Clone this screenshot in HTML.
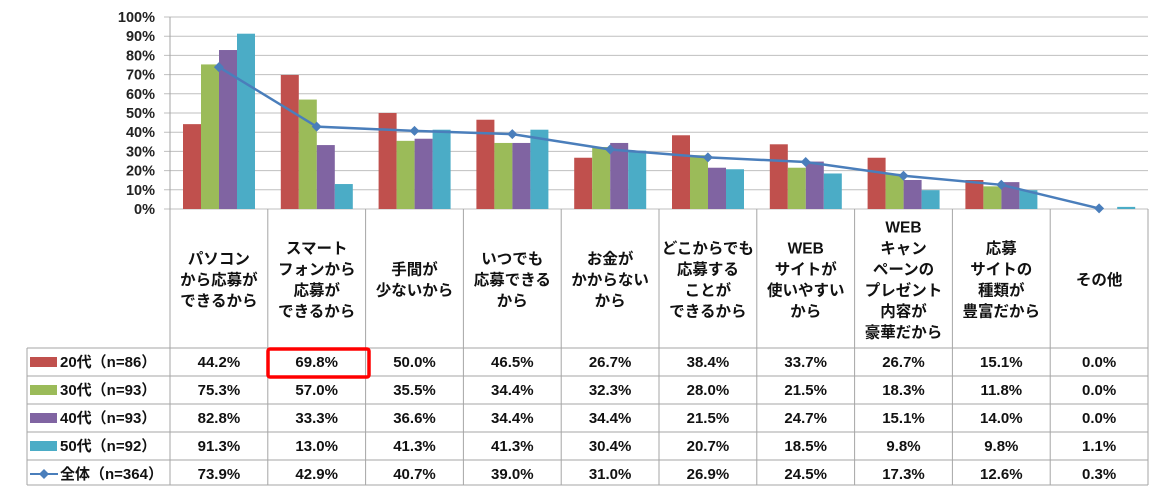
<!DOCTYPE html>
<html><head><meta charset="utf-8"><style>
body{margin:0;background:#fff;width:1159px;height:494px;overflow:hidden;font-family:"Liberation Sans","Noto Sans CJK JP",sans-serif;}
svg text{font-family:"Liberation Sans","Noto Sans CJK JP",sans-serif;font-weight:bold;}
</style></head><body>
<svg id="c" width="1159" height="494"></svg>
<script>
const categories=[["パソコン","から応募が","できるから"],["スマート","フォンから","応募が","できるから"],["手間が","少ないから"],["いつでも","応募できる","から"],["お金が","かからない","から"],["どこからでも","応募する","ことが","できるから"],["WEB","サイトが","使いやすい","から"],["WEB","キャン","ペーンの","プレゼント","内容が","豪華だから"],["応募","サイトの","種類が","豊富だから"],["その他"]];
const seriesNames=["20代（n=86）","30代（n=93）","40代（n=93）","50代（n=92）","全体（n=364）"];
const s20=[44.2,69.8,50.0,46.5,26.7,38.4,33.7,26.7,15.1,0.0];
const s30=[75.3,57.0,35.5,34.4,32.3,28.0,21.5,18.3,11.8,0.0];
const s40=[82.8,33.3,36.6,34.4,34.4,21.5,24.7,15.1,14.0,0.0];
const s50=[91.3,13.0,41.3,41.3,30.4,20.7,18.5,9.8,9.8,1.1];
const total=[73.9,42.9,40.7,39.0,31.0,26.9,24.5,17.3,12.6,0.3];
const yTicks=[0,10,20,30,40,50,60,70,80,90,100];
const colors=["#c0504d","#9bbb59","#8064a2","#4bacc6","#4a7ebb"];
const svg=document.getElementById('c');const NS="http://www.w3.org/2000/svg";
function mk(t,a,p){const e=document.createElementNS(NS,t);for(const k in a)e.setAttribute(k,a[k]);(p||svg).appendChild(e);return e;}
const X0=170,CW=97.8,Y0=209,Y1=17;
const y=v=>Y0-(v/100)*(Y0-Y1);
const xc=i=>X0+CW*i+CW/2;
yTicks.forEach(t=>{const l=mk('line',{x1:164,x2:1148,y1:y(t),y2:y(t),stroke:'#bfbfbf','stroke-width':1});

const tx=mk('text',{x:155,y:y(t)+5,'text-anchor':'end','font-size':14.5,fill:'#222'});tx.textContent=t+'%';
});
const rowsY=[348,376,404,432,460,485];
mk('line',{x1:X0,x2:X0,y1:Y1,y2:485,stroke:'#a6a6a6'});
for(let i=1;i<=10;i++)mk('line',{x1:X0+CW*i,x2:X0+CW*i,y1:Y0,y2:485,stroke:'#a6a6a6'});
mk('line',{x1:27,x2:27,y1:348,y2:485,stroke:'#a6a6a6'});
rowsY.forEach(r=>mk('line',{x1:27,x2:X0+CW*10,y1:r,y2:r,stroke:'#a6a6a6'}));
const all=[s20,s30,s40,s50];
all.forEach((s,si)=>s.forEach((v,i)=>{const bx=X0+CW*i+13+si*18;
const r=mk('rect',{x:bx,y:y(v),width:18,height:Y0-y(v),fill:colors[si]});
}));
const pl=mk('polyline',{points:total.map((v,i)=>xc(i)+','+y(v)).join(' '),fill:'none',stroke:colors[4],'stroke-width':2.5});

total.forEach((v,i)=>{const d=mk('polygon',{points:`${xc(i)},${y(v)-5} ${xc(i)+5},${y(v)} ${xc(i)},${y(v)+5} ${xc(i)-5},${y(v)}`,fill:colors[4]});
});
categories.forEach((lines,i)=>{const lh=21,cy=279,st=cy-(lines.length-1)*lh/2;
lines.forEach((t,j)=>{const tx=mk('text',{x:xc(i),y:st+j*lh+6,'text-anchor':'middle','font-size':15.5,fill:'#111'});tx.textContent=t;
});});
[s20,s30,s40,s50,total].forEach((s,si)=>{const ry=rowsY[si],mid=ry+14;
if(si<4)mk('rect',{x:30,y:mid-5,width:27,height:10,fill:colors[si]});
else{mk('line',{x1:30,x2:58,y1:mid,y2:mid,stroke:colors[4],'stroke-width':2});mk('polygon',{points:`44,${mid-5} 49,${mid} 44,${mid+5} 39,${mid}`,fill:colors[4]});}
const lt=mk('text',{x:60,y:mid+5,'font-size':15,fill:'#111'});lt.textContent=seriesNames[si];

s.forEach((v,i)=>{const tx=mk('text',{x:xc(i),y:mid+5,'text-anchor':'middle','font-size':15,fill:'#111'});tx.textContent=v.toFixed(1)+'%';
});});
const hb=mk('rect',{x:268,y:349,width:101,height:28,fill:'none',stroke:'#ff0000','stroke-width':3.5,rx:2});

</script>
</body></html>
